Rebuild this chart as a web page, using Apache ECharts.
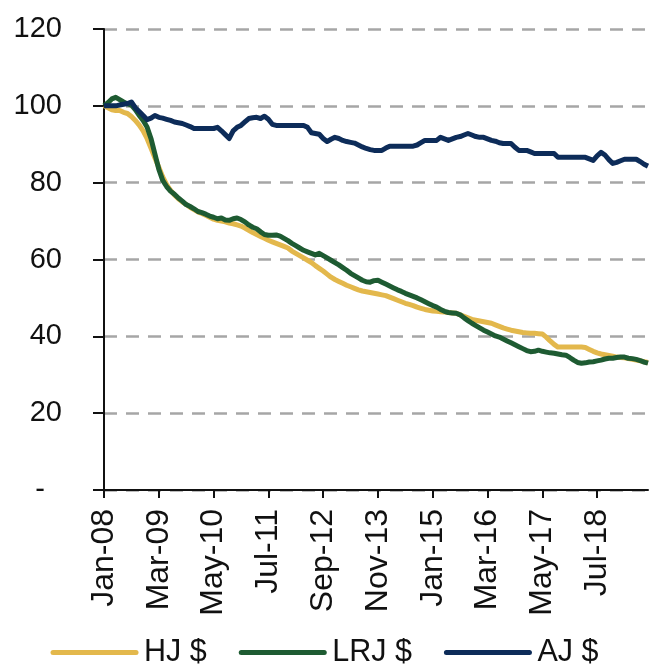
<!DOCTYPE html>
<html>
<head>
<meta charset="utf-8">
<script src="https://cdn.jsdelivr.net/npm/echarts@6/dist/echarts.min.js"></script>
<style>
  html, body { margin: 0; padding: 0; background: #fff; }
  #chart { width: 649px; height: 665px; }
</style>
</head>
<body>
<div id="chart"></div>
<script>
// monthly, Jan-08 .. Aug-19
var monthNames = ['Jan', 'Feb', 'Mar', 'Apr', 'May', 'Jun', 'Jul', 'Aug', 'Sep', 'Oct', 'Nov', 'Dec'];
var startYear = 2008;
var monthCount = 140;

var hj = [
  100, 99.5, 99, 98.8, 98.8, 98.3, 98, 97.2, 96.2, 95,
  93.5, 91.5, 89, 86.5, 84, 81.5, 79.5, 78, 76.8, 75.8,
  75, 74.3, 73.6, 73, 72.4, 72, 71.5, 71, 70.5, 70.2,
  70, 69.8, 69.5, 69.3, 69, 68.7, 68.2, 67.6, 67, 66.5,
  66, 65.5, 65, 64.6, 64.2, 63.8, 63.4, 63, 62.2, 61.6,
  61, 60.4, 59.8, 59.2, 58.4, 57.7, 57, 56.2, 55.4, 54.8,
  54.3, 53.8, 53.3, 52.9, 52.5, 52.1, 51.8, 51.6, 51.4, 51.2,
  51, 50.8, 50.6, 50.2, 49.8, 49.4, 49, 48.6, 48.3, 48,
  47.6, 47.3, 47, 46.8, 46.6, 46.5, 46.4, 46.3, 46.2, 46.1,
  46, 45.6, 45.2, 44.8, 44.4, 44.2, 44, 43.8, 43.6, 43.4,
  43, 42.6, 42.2, 41.9, 41.6, 41.4, 41.2, 41, 40.9, 40.8,
  40.8, 40.7, 40.6, 39.8, 38.8, 37.9, 37.2, 37.2, 37.2, 37.2,
  37.2, 37.2, 37.2, 37.1, 36.6, 36.1, 35.7, 35.4, 35.2, 35,
  34.8, 34.6, 34.5, 34.4, 34.2, 34, 33.8, 33.6, 33.4, 33.2
];

var lrj = [
  100, 100.8, 101.8, 102.2, 101.6, 101, 100.5, 100.2, 99, 97.5,
  96.2, 94.5, 91.5, 87.5, 83.5, 80.6, 79, 77.8, 77, 76,
  75.2, 74.3, 73.8, 73.2, 72.5, 72.2, 71.8, 71.3, 71, 70.6,
  70.8, 70.3, 70.2, 70.6, 70.8, 70.4, 69.8, 69, 68.4, 68,
  67.2, 66.5, 66.3, 66.3, 66.4, 66.1, 65.5, 64.9, 64.2, 63.6,
  63, 62.4, 62, 61.6, 61.2, 61.6, 61, 60.4, 59.8, 59.2,
  58.6, 57.9, 57.2, 56.4, 55.8, 55.2, 54.6, 54.2, 54.1, 54.5,
  54.6, 54.1, 53.6, 53.1, 52.6, 52.1, 51.7, 51.2, 50.8, 50.4,
  50, 49.5, 49, 48.5, 48, 47.6, 47, 46.5, 46.2, 46.1,
  46, 45.6, 44.8, 44.1, 43.4, 42.8, 42.2, 41.6, 41.1, 40.6,
  40.1, 39.8, 39.3, 38.8, 38.3, 37.8, 37.3, 36.8, 36.3, 36,
  36.1, 36.4, 36.1, 35.9, 35.7, 35.6, 35.4, 35.2, 35.1, 34.5,
  33.8, 33.2, 33, 33.1, 33.3, 33.4, 33.6, 33.8, 34.1, 34.3,
  34.3, 34.5, 34.6, 34.6, 34.3, 34.2, 34, 33.7, 33.3, 33
];

var aj = [
  100, 100, 100, 100, 100.2, 100.4, 100.6, 101, 99.5, 98.5,
  97.5, 96.4, 96.8, 97.5, 97, 96.8, 96.5, 96.2, 95.8, 95.6,
  95.4, 95, 94.6, 94.1, 94.1, 94.1, 94.1, 94.1, 94.1, 94.4,
  93.5, 92.5, 91.5, 93.5, 94.4, 94.9, 95.8, 96.7, 96.9, 97,
  96.7, 97.3, 96.5, 95.2, 94.9, 94.9, 94.9, 94.9, 94.9, 94.9,
  94.9, 94.9, 94.4, 93, 92.8, 92.6, 91.5, 90.7, 91.3, 91.8,
  91.5, 91, 90.7, 90.5, 90.3, 89.8, 89.3, 88.9, 88.6, 88.4,
  88.4, 88.4, 89, 89.5, 89.5, 89.5, 89.5, 89.5, 89.5, 89.5,
  89.8, 90.4, 91, 91, 91, 91, 91.8, 91.4, 91, 91.4,
  91.8, 92, 92.4, 92.8, 92.4, 92, 91.8, 91.8, 91.4, 91,
  90.8, 90.4, 90.2, 90.2, 90.2, 89.2, 88.4, 88.4, 88.4, 88,
  87.6, 87.6, 87.6, 87.6, 87.6, 87.6, 86.6, 86.6, 86.6, 86.6,
  86.6, 86.6, 86.6, 86.6, 86.2, 85.8, 87, 87.9, 87.2, 86,
  85, 85.3, 85.7, 86.1, 86.1, 86.1, 86.1, 85.5, 84.8, 84.3
];

var seriesNames = ['HJ $', 'LRJ $', 'AJ $'];
var colors = ['#E3B84C', '#1E5B32', '#0D2C59'];

var categories = [];
for (var i = 0; i < monthCount; i++) {
  var y = startYear + Math.floor(i / 12);
  categories.push(monthNames[i % 12] + '-' + String(y).slice(2));
}

var chart = echarts.init(document.getElementById('chart'), null, { renderer: 'canvas' });

var font = 'Liberation Sans, Arial, sans-serif';

function makeSeries(name, data, color) {
  return {
    name: name,
    type: 'line',
    data: data,
    showSymbol: false,
    symbol: 'none',
    smooth: false,
    lineStyle: { color: color, width: 5, join: 'round' },
    itemStyle: { color: color },
    animation: false
  };
}

var option = {
  backgroundColor: '#ffffff',
  animation: false,
  color: colors,
  grid: {
    left: 104,
    right: 1,
    top: 29,
    bottom: 175,
    containLabel: false,
    outerBoundsMode: 'none'
  },
  legend: {
    data: seriesNames,
    orient: 'horizontal',
    left: 'center',
    top: 632,
    itemWidth: 83,
    itemHeight: 14,
    itemGap: 32,
    itemStyle: { opacity: 0, borderWidth: 0 },
    lineStyle: { width: 5, cap: 'round' },
    textStyle: {
      fontFamily: font,
      fontSize: 30.5,
      color: '#111',
      padding: [0, 0, 0, 3]
    }
  },
  xAxis: {
    type: 'category',
    data: categories,
    boundaryGap: false,
    axisLine: { lineStyle: { color: '#111', width: 2 } },
    axisTick: {
      interval: 13,
      length: 8,
      lineStyle: { color: '#111', width: 2 }
    },
    axisLabel: {
      interval: 13,
      rotate: 90,
      margin: 19,
      fontFamily: font,
      fontSize: 32,
      color: '#111'
    },
    splitLine: { show: false }
  },
  yAxis: {
    type: 'value',
    min: 0,
    max: 120,
    interval: 20,
    axisLine: { show: true, lineStyle: { color: '#111', width: 2 } },
    axisTick: {
      show: true,
      length: 11,
      lineStyle: { color: '#111', width: 2 }
    },
    axisLabel: {
      margin: 42,
      fontFamily: font,
      fontSize: 29,
      color: '#111',
      formatter: function (v) {
        return v === 0 ? '{z|-}' : String(v);
      },
      rich: {
        z: { fontFamily: font, fontSize: 29, color: '#111', padding: [0, 17, 0, 0] }
      }
    },
    splitLine: {
      show: true,
      lineStyle: { color: '#A6A6A6', width: 2.5, type: [13, 9] }
    }
  },
  series: [
    makeSeries(seriesNames[0], hj, colors[0]),
    makeSeries(seriesNames[1], lrj, colors[1]),
    makeSeries(seriesNames[2], aj, colors[2])
  ]
};

chart.setOption(option);
</script>
</body>
</html>
